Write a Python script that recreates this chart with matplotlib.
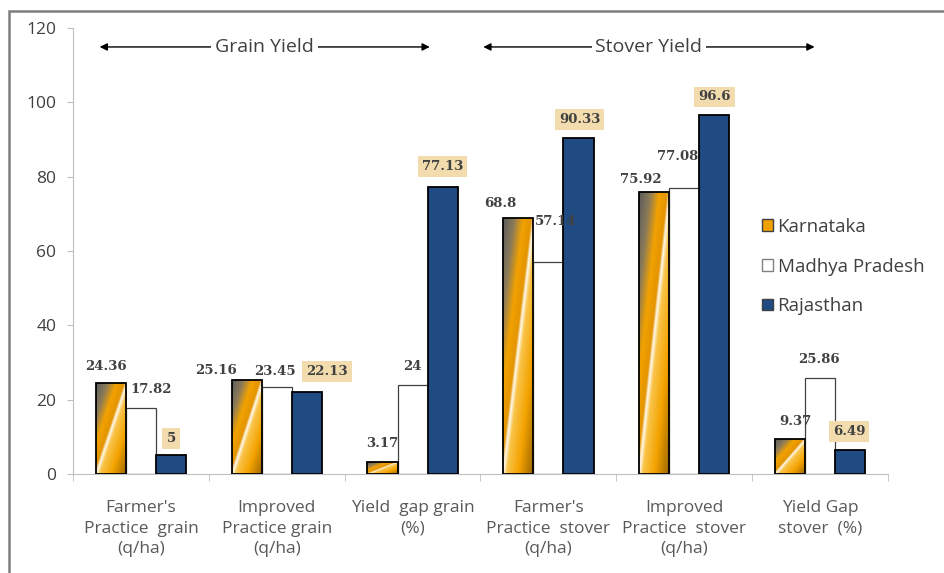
import numpy as np
import matplotlib.pyplot as plt
from matplotlib.patches import Rectangle, Patch
from matplotlib.colors import LinearSegmentedColormap

# data
categories = ["Farmer's\nPractice  grain\n(q/ha)", "Improved\nPractice grain\n(q/ha)",
              "Yield  gap grain\n(%)", "Farmer's\nPractice  stover\n(q/ha)",
              "Improved\nPractice  stover\n(q/ha)", "Yield Gap\nstover  (%)"]
states = ["Karnataka", "Madhya Pradesh", "Rajasthan"]
karnataka = [24.36, 25.16, 3.17, 68.8, 75.92, 9.37]
madhya = [17.82, 23.45, 24, 57.14, 77.08, 25.86]
rajasthan = [5, 22.13, 77.13, 90.33, 96.6, 6.49]

# label nudges (pixels, relative to bar top centre)
off_k = [(-5, 17), (-31, 10), (0, 19), (-18, 15), (-13, 12), (5, 18)]
off_m = [(10, 18), (-2, 15), (0, 18), (7, 40), (-7, 31), (-1, 18)]
off_r = [(0, 17), (20, 20), (0, 21), (1, 19), (0, 18), (-1, 18)]

fig = plt.figure(figsize=(9.44, 5.73), dpi=100)
ax = fig.add_axes([73 / 944, 99 / 573, 815 / 944, 446 / 573])

# outer frame
fig.patches.append(Rectangle((9 / 944, -0.05), 1.2, (573 - 11) / 573 + 0.05,
                             transform=fig.transFigure, fill=False,
                             edgecolor='#7f7f7f', lw=1.8))

x = np.arange(len(categories))
w = 0.222

orange = LinearSegmentedColormap.from_list('kar', [
    (0.0, '#5c5c5c'), (0.18, '#8c7b58'), (0.33, '#f2a200'), (0.46, '#e39400'),
    (0.5, '#fffaf0'), (0.56, '#f9c44a'), (0.75, '#f4a300'), (1.0, '#9a6400')])

bars_k = ax.bar(x - w, karnataka, w, facecolor='none', edgecolor='black', lw=1.3, zorder=3)
bars_m = ax.bar(x, madhya, w, facecolor='white', edgecolor='#404040', lw=0.9, zorder=2)
bars_r = ax.bar(x + w, rajasthan, w, facecolor='#1f4a82', edgecolor='black', lw=1.3, zorder=3)

# gradient fill for Karnataka bars
uu, vv = np.meshgrid(np.linspace(0, 1, 60), np.linspace(0, 1, 200))
grad = (uu - vv + 1) / 2
for b in bars_k:
    x0, hgt = b.get_x(), b.get_height()
    im = ax.imshow(grad, cmap=orange, vmin=0, vmax=1, origin='lower', aspect='auto',
                   extent=(x0, x0 + b.get_width(), 0, hgt), zorder=2.5)
    im.set_clip_path(b)

ax.set_xlim(-0.5, 5.5)
ax.set_ylim(0, 120)

lab_kw = dict(textcoords='offset points', ha='center', va='center',
              fontfamily='DejaVu Serif', fontweight='bold', fontsize=9.5, color='#404040', zorder=5)
for bars, vals, offs, boxed in [(bars_k, karnataka, off_k, False),
                                (bars_m, madhya, off_m, False),
                                (bars_r, rajasthan, off_r, True)]:
    for b, v, (dx, dy) in zip(bars, vals, offs):
        kw = dict(lab_kw)
        if boxed:
            kw['bbox'] = dict(boxstyle='square,pad=0.3', facecolor='#f2dcae', edgecolor='none')
        ax.annotate(f"{v:g}", (b.get_x() + b.get_width() / 2, v),
                    xytext=(dx * 0.72, dy * 0.72), **kw)

# axes styling
for s in ['top', 'right']:
    ax.spines[s].set_visible(False)
for s in ['left', 'bottom']:
    ax.spines[s].set_color('#bfbfbf')
ax.set_yticks(range(0, 121, 20))
ax.tick_params(axis='y', colors='#bfbfbf', labelcolor='#404040', labelsize=12.5, length=4, pad=8)
ax.set_xticks(x)
ax.set_xticklabels(categories, fontsize=12.5, color='#595959', linespacing=1.35)
ax.tick_params(axis='x', length=0, pad=19)
ax.set_xticks(np.arange(-0.5, 6, 1), minor=True)
ax.tick_params(axis='x', which='minor', length=5, colors='#bfbfbf')
for t in ax.get_xticklabels() + ax.get_yticklabels():
    t.set_fontfamily('Open Sans')

# section headers with arrows
for left, right, txt in [(-0.324, 2.147, 'Grain Yield'), (2.5, 4.98, 'Stover Yield')]:
    ax.annotate('', xy=(left, 114.9), xytext=(right, 114.9),
                arrowprops=dict(arrowstyle='<|-|>', color='black', lw=1, mutation_scale=11))
    ax.text((left + right) / 2, 114.9, txt, ha='center', va='center', fontsize=14,
            fontfamily='Open Sans', color='#404040',
            bbox=dict(boxstyle='square,pad=0.2', facecolor='white', edgecolor='none'))

handles = [Patch(facecolor='#f2a200', edgecolor='#404040'),
           Patch(facecolor='white', edgecolor='#808080'),
           Patch(facecolor='#1f4a82', edgecolor='#404040')]
leg = ax.legend(handles, states, loc='upper left', bbox_to_anchor=(0.845, 0.574),
                frameon=False, handlelength=0.6, handleheight=0.6, handletextpad=0.25,
                labelspacing=1.15, borderpad=0, borderaxespad=0,
                prop={'family': 'Open Sans', 'size': 13.5})
for t in leg.get_texts():
    t.set_color('#404040')

fig.savefig('out.png', dpi=100)
